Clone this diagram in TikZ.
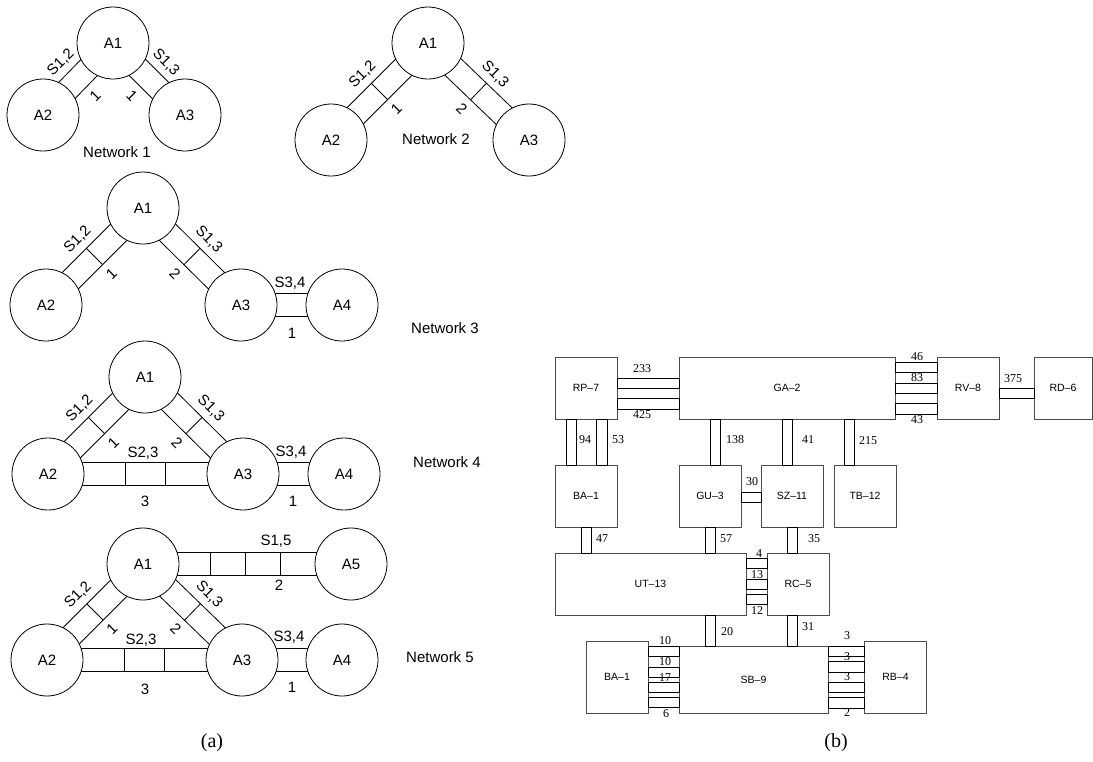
\documentclass[tikz,border=0pt]{standalone}
\usepackage{fontspec}
\setmainfont{Liberation Serif}
\setsansfont{Liberation Sans}
\usetikzlibrary{calc,backgrounds}
\newcommand\hw{11.5pt}
% two parallel lines of a channel between two circle nodes
\newcommand\dchan[2]{%
  \draw[chan] ($(#1)!\hw!90:(#2)$) -- ($(#2)!\hw!-90:(#1)$);
  \draw[chan] ($(#1)!\hw!-90:(#2)$) -- ($(#2)!\hw!90:(#1)$);}
% a cross divider at coordinate #1, channel towards node #2
\newcommand\dsplit[2]{%
  \draw[chan] ($(#1)!\hw!90:(#2)$) -- ($(#1)!\hw!-90:(#2)$);}
% a label beside coordinate #1 (towards node #2), angle #3, rotation #4
\newcommand\dlab[5]{%
  \node[lbl,rotate=#4] at ($(#1)!24pt!#3:(#2)$) {#5};}
\begin{document}
\begin{tikzpicture}[x=1pt,y=-1pt,
  ag/.style={circle,draw,line width=0.8pt,fill=white,minimum size=72pt,inner sep=0pt,
    font=\sffamily\fontsize{15}{18}\selectfont},
  lbl/.style={inner sep=0pt,font=\sffamily\fontsize{15}{18}\selectfont},
  chan/.style={line width=0.8pt},
  box/.style={draw=black!70,line width=0.75pt,inner sep=0pt,outer sep=0pt,
    font=\sffamily\fontsize{10.5}{12}\selectfont},
  link/.style={draw,line width=0.85pt},
  num/.style={inner sep=0pt,font=\fontsize{12}{14}\selectfont},
  captxt/.style={inner sep=0pt,font=\fontsize{20}{24}\selectfont},
]
\useasboundingbox (0,0) rectangle (1093,761);

% ================= (a) =================
% Network 1
\node[ag] (n1a1) at (113,43) {A1};
\node[ag] (n1a2) at (43,115) {A2};
\node[ag] (n1a3) at (185,115) {A3};
\coordinate (n1m12) at ($(n1a1)!0.5!(n1a2)$);
\coordinate (n1m13) at ($(n1a1)!0.5!(n1a3)$);
\begin{scope}[on background layer]
  \dchan{n1a1}{n1a2}
  \dchan{n1a1}{n1a3}
\end{scope}
\dlab{n1m12}{n1a2}{-90}{45}{S1,2}
\dlab{n1m12}{n1a2}{90}{45}{1}
\dlab{n1m13}{n1a3}{90}{-45}{S1,3}
\dlab{n1m13}{n1a3}{-90}{-45}{1}
\node[lbl] (t1) at (117,152) {Network 1};

% Network 2
\node[ag] (n2a1) at (428,43) {A1};
\node[ag] (n2a2) at (331,140) {A2};
\node[ag] (n2a3) at (529,140) {A3};
\coordinate (n2m12) at ($(n2a1)!0.5!(n2a2)$);
\coordinate (n2m13) at ($(n2a1)!0.5!(n2a3)$);
\begin{scope}[on background layer]
  \dchan{n2a1}{n2a2}
  \dchan{n2a1}{n2a3}
  \dsplit{n2m12}{n2a2}
  \dsplit{n2m13}{n2a3}
\end{scope}
\dlab{n2m12}{n2a2}{-90}{45}{S1,2}
\dlab{n2m12}{n2a2}{90}{45}{1}
\dlab{n2m13}{n2a3}{90}{-45}{S1,3}
\dlab{n2m13}{n2a3}{-90}{-45}{2}
\node[lbl] (t2) at (436,139) {Network 2};

% Network 3
\node[ag] (n3a1) at (143,208) {A1};
\node[ag] (n3a2) at (46,305) {A2};
\node[ag] (n3a3) at (241,305) {A3};
\node[ag] (n3a4) at (342,305) {A4};
\coordinate (n3m12) at ($(n3a1)!0.5!(n3a2)$);
\coordinate (n3m13) at ($(n3a1)!0.5!(n3a3)$);
\begin{scope}[on background layer]
  \dchan{n3a1}{n3a2}
  \dchan{n3a1}{n3a3}
  \dchan{n3a3}{n3a4}
  \dsplit{n3m12}{n3a2}
  \dsplit{n3m13}{n3a3}
\end{scope}
\dlab{n3m12}{n3a2}{-90}{45}{S1,2}
\dlab{n3m12}{n3a2}{90}{45}{1}
\dlab{n3m13}{n3a3}{90}{-45}{S1,3}
\dlab{n3m13}{n3a3}{-90}{-45}{2}
\node[lbl] at (290,283) {S3,4};
\node[lbl] at (292,333) {1};
\node[lbl] (t3) at (445,328) {Network 3};

% Network 4
\node[ag] (n4a1) at (145,377) {A1};
\node[ag] (n4a2) at (48,474) {A2};
\node[ag] (n4a3) at (243,474) {A3};
\node[ag] (n4a4) at (344,474) {A4};
\coordinate (n4m12) at ($(n4a1)!0.5!(n4a2)$);
\coordinate (n4m13) at ($(n4a1)!0.5!(n4a3)$);
\coordinate (n4d1) at ($(n4a2.east)!0.3333!(n4a3.west)$);
\coordinate (n4d2) at ($(n4a2.east)!0.6667!(n4a3.west)$);
\begin{scope}[on background layer]
  \dchan{n4a1}{n4a2}
  \dchan{n4a1}{n4a3}
  \dchan{n4a2}{n4a3}
  \dchan{n4a3}{n4a4}
  \dsplit{n4m12}{n4a2}
  \dsplit{n4m13}{n4a3}
  \dsplit{n4d1}{n4a3}
  \dsplit{n4d2}{n4a3}
\end{scope}
\dlab{n4m12}{n4a2}{-90}{45}{S1,2}
\dlab{n4m12}{n4a2}{90}{45}{1}
\dlab{n4m13}{n4a3}{90}{-45}{S1,3}
\dlab{n4m13}{n4a3}{-90}{-45}{2}
\node[lbl] at (143,453) {S2,3};
\node[lbl] at (145,501) {3};
\node[lbl] at (291,452) {S3,4};
\node[lbl] at (293,501) {1};
\node[lbl] (t4) at (447,462) {Network 4};

% Network 5
\node[ag] (n5a1) at (143,564) {A1};
\node[ag] (n5a2) at (47,660) {A2};
\node[ag] (n5a3) at (242,660) {A3};
\node[ag] (n5a4) at (342,660) {A4};
\node[ag] (n5a5) at (351,564) {A5};
\coordinate (n5m12) at ($(n5a1)!0.5!(n5a2)$);
\coordinate (n5m13) at ($(n5a1)!0.5!(n5a3)$);
\coordinate (n5d1) at ($(n5a2.east)!0.3333!(n5a3.west)$);
\coordinate (n5d2) at ($(n5a2.east)!0.6667!(n5a3.west)$);
\coordinate (n5e1) at ($(n5a1.east)!0.23!(n5a5.west)$);
\coordinate (n5e2) at ($(n5a1.east)!0.49!(n5a5.west)$);
\coordinate (n5e3) at ($(n5a1.east)!0.75!(n5a5.west)$);
\begin{scope}[on background layer]
  \dchan{n5a1}{n5a2}
  \dchan{n5a1}{n5a3}
  \dchan{n5a1}{n5a5}
  \dchan{n5a2}{n5a3}
  \dchan{n5a3}{n5a4}
  \dsplit{n5m12}{n5a2}
  \dsplit{n5m13}{n5a3}
  \dsplit{n5d1}{n5a3}
  \dsplit{n5d2}{n5a3}
  \dsplit{n5e1}{n5a5}
  \dsplit{n5e2}{n5a5}
  \dsplit{n5e3}{n5a5}
\end{scope}
\dlab{n5m12}{n5a2}{-90}{45}{S1,2}
\dlab{n5m12}{n5a2}{90}{45}{1}
\dlab{n5m13}{n5a3}{90}{-45}{S1,3}
\dlab{n5m13}{n5a3}{-90}{-45}{2}
\node[lbl] at (276,541) {S1,5};
\node[lbl] at (279,585) {2};
\node[lbl] at (141,640) {S2,3};
\node[lbl] at (145,689) {3};
\node[lbl] at (289,637) {S3,4};
\node[lbl] at (292,687) {1};
\node[lbl] (t5) at (440,657) {Network 5};

\node[captxt] (capa) at (212,743) {(a)};

% ================= (b) =================
\node[box,minimum width=62pt,minimum height=62pt] (rp7) at (586,388) {RP–7};
\node[box,minimum width=216pt,minimum height=62pt] (ga2) at (787,388) {GA–2};
\node[box,minimum width=62pt,minimum height=62pt] (rv8) at (968,388) {RV–8};
\node[box,minimum width=58pt,minimum height=62pt] (rd6) at (1063,388) {RD–6};
\node[box,minimum width=62pt,minimum height=62pt] (ba1t) at (586,496) {BA–1};
\node[box,minimum width=62pt,minimum height=62pt] (gu3) at (710,496) {GU–3};
\node[box,minimum width=62pt,minimum height=62pt] (sz11) at (792,496) {SZ–11};
\node[box,minimum width=62pt,minimum height=62pt] (tb12) at (865,496) {TB–12};
\node[box,minimum width=191pt,minimum height=62pt] (ut13) at (650.5,584) {UT–13};
\node[box,minimum width=62pt,minimum height=62pt] (rc5) at (798,584) {RC–5};
\node[box,minimum width=62pt,minimum height=72pt] (ba1b) at (617,677) {BA–1};
\node[box,minimum width=149pt,minimum height=67pt] (sb9) at (753.5,679.5) {SB–9};
\node[box,minimum width=62pt,minimum height=72pt] (rb4) at (895.5,677) {RB–4};

% horizontal links
\draw[link] (rp7.east |- 0,378) rectangle (ga2.west |- 0,388);
\draw[link] (rp7.east |- 0,398) rectangle (ga2.west |- 0,409);
\draw[link] (ga2.east |- 0,362) rectangle (rv8.west |- 0,372);
\draw[link] (ga2.east |- 0,383) rectangle (rv8.west |- 0,393);
\draw[link] (ga2.east |- 0,403) rectangle (rv8.west |- 0,414);
\draw[link] (rv8.east |- 0,388) rectangle (rd6.west |- 0,398);
\draw[link] (gu3.east |- 0,492) rectangle (sz11.west |- 0,502);
\draw[link] (ut13.east |- 0,558) rectangle (rc5.west |- 0,568);
\draw[link] (ut13.east |- 0,579) rectangle (rc5.west |- 0,589);
\draw[link] (ut13.east |- 0,594) rectangle (rc5.west |- 0,604);
\draw[link] (ba1b.east |- 0,646) rectangle (sb9.west |- 0,656);
\draw[link] (ba1b.east |- 0,667) rectangle (sb9.west |- 0,677);
\draw[link] (ba1b.east |- 0,682) rectangle (sb9.west |- 0,692);
\draw[link] (ba1b.east |- 0,697) rectangle (sb9.west |- 0,707);
\draw[link] (sb9.east |- 0,646) rectangle (rb4.west |- 0,656);
\draw[link] (sb9.east |- 0,661) rectangle (rb4.west |- 0,672);
\draw[link] (sb9.east |- 0,682) rectangle (rb4.west |- 0,692);
\draw[link] (sb9.east |- 0,697) rectangle (rb4.west |- 0,708);

% vertical links
\draw[link] (566,0 |- rp7.south) rectangle (576,0 |- ba1t.north);
\draw[link] (596,0 |- rp7.south) rectangle (607,0 |- ba1t.north);
\draw[link] (710,0 |- ga2.south) rectangle (720,0 |- gu3.north);
\draw[link] (782,0 |- ga2.south) rectangle (792,0 |- sz11.north);
\draw[link] (844,0 |- ga2.south) rectangle (854,0 |- tb12.north);
\draw[link] (581,0 |- ba1t.south) rectangle (591,0 |- ut13.north);
\draw[link] (705,0 |- gu3.south) rectangle (715,0 |- ut13.north);
\draw[link] (787,0 |- sz11.south) rectangle (797,0 |- rc5.north);
\draw[link] (705,0 |- ut13.south) rectangle (715,0 |- sb9.north);
\draw[link] (787,0 |- rc5.south) rectangle (797,0 |- sb9.north);

% link labels
\node[num] at (642,369) {233};
\node[num] at (642,415) {425};
\node[num] at (917,357) {46};
\node[num] at (917,378) {83};
\node[num] at (917,420) {43};
\node[num] at (1013,379) {375};
\node[num] at (585,440) {94};
\node[num] at (618,440) {53};
\node[num] at (735,440) {138};
\node[num] at (808,440) {41};
\node[num] at (868,441) {215};
\node[num] at (752,482) {30};
\node[num] at (602,539) {47};
\node[num] at (726,539) {57};
\node[num] at (814,539) {35};
\node[num] at (759,554) {4};
\node[num] at (757,575) {13};
\node[num] at (757,611) {12};
\node[num] at (727,632) {20};
\node[num] at (808,627) {31};
\node[num] at (665,641) {10};
\node[num] at (665,662) {10};
\node[num] at (665,678) {17};
\node[num] at (666,714) {6};
\node[num] at (847,636) {3};
\node[num] at (847,657) {3};
\node[num] at (847,677) {3};
\node[num] at (847,713) {2};

\node[captxt] (capb) at (836,743) {(b)};
\end{tikzpicture}
\end{document}
